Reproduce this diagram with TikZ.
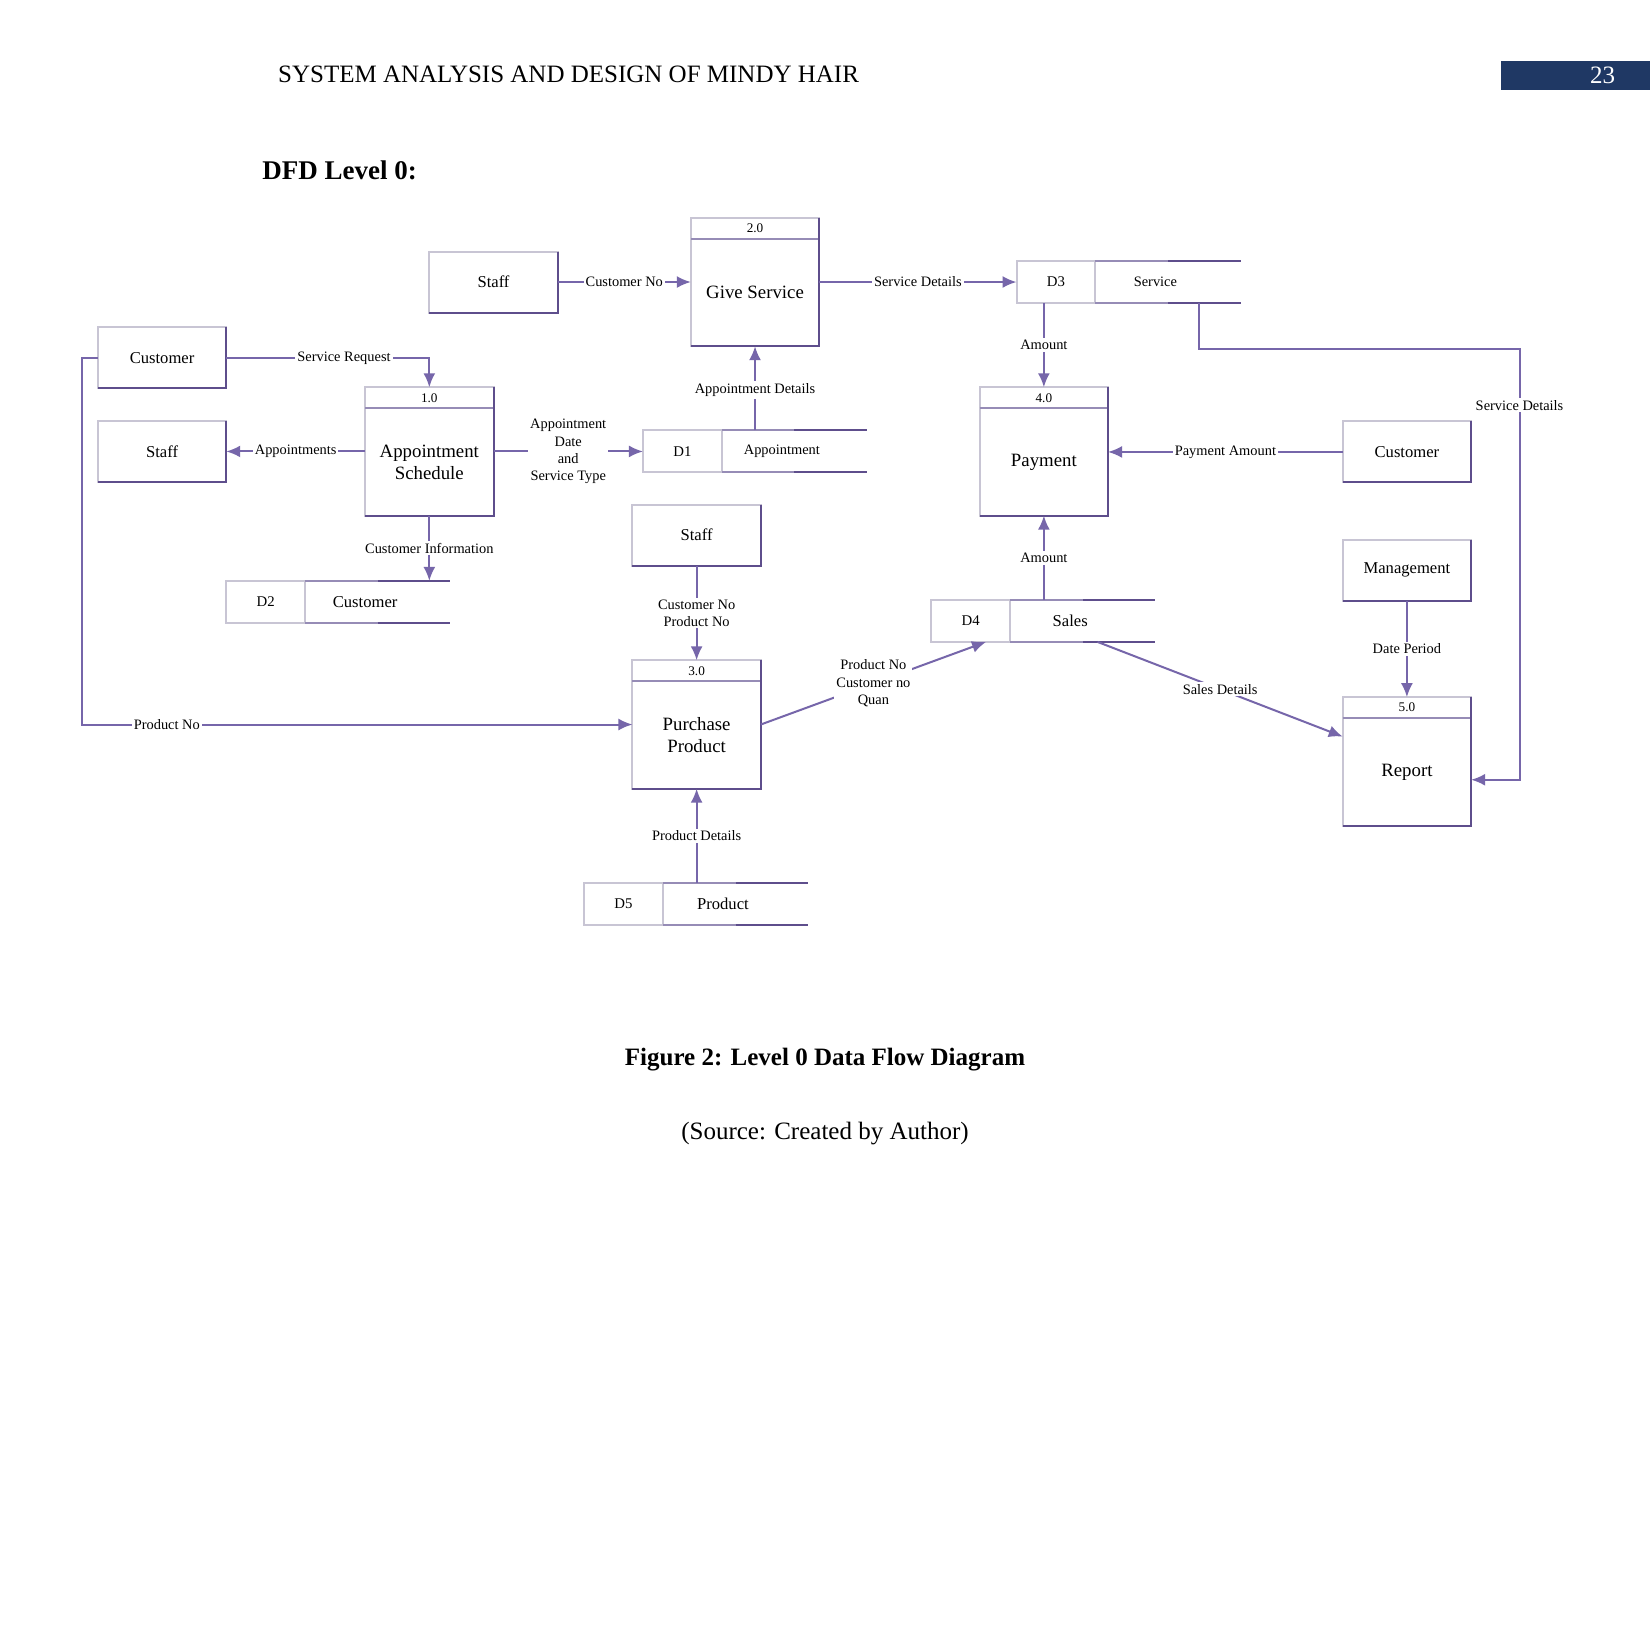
\documentclass[tikz,border=0pt]{standalone}
\usepackage{fontspec}
\setmainfont{Liberation Serif}
\usetikzlibrary{arrows.meta,calc}
\newcommand\pxu{0.52615pt}
\definecolor{flowc}{RGB}{118,102,170}
\definecolor{edged}{RGB}{94,78,140}
\definecolor{edgel}{RGB}{200,197,212}
\definecolor{edgem}{RGB}{150,140,182}
\definecolor{navy}{RGB}{31,56,100}
\tikzset{
 ent/.style={draw=edgel, line width=1pt, fill=white, minimum width={122*\pxu}, minimum height={58*\pxu}, inner sep=0pt, outer sep=0pt, font=\fontsize{8.3}{10}\selectfont},
 procbox/.style={draw=edgel, line width=1pt, fill=white, minimum width={122*\pxu}, minimum height={122*\pxu}, inner sep=0pt, outer sep=0pt},
 ptxt/.style={font=\fontsize{9.4}{11}\selectfont, align=center, inner sep=0pt},
 pnum/.style={font=\fontsize{6.6}{7}\selectfont, inner sep=0pt},
 sbox/.style={draw=edgel, line width=1pt, fill=white, minimum width={75*\pxu}, minimum height={40*\pxu}, inner sep=0pt, outer sep=0pt, font=\fontsize{7.4}{8}\selectfont},
 sname/.style={font=\fontsize{8.3}{10}\selectfont, inner sep=0pt},
 snames/.style={font=\fontsize{7.2}{8}\selectfont, inner sep=0pt},
 flow/.style={draw=flowc, line width=1pt, -{Latex[length=7pt,width=6pt]}},
 lbl/.style={font=\fontsize{7.2}{8.6}\selectfont, fill=white, inner sep=1pt, align=center, text=black},
 edgeD/.style={draw=edged, line width=1pt},
 edgeL/.style={draw=edgel, line width=1pt},
 edgeM/.style={draw=edgem, line width=1pt}
}
\newcommand\dfdproc[5]{%
 \node[procbox] (#1) at (#2,#3) {};
 \draw[edgeM] ($(#1.north west)+(0,20)$) -- ($(#1.north east)+(0,20)$);
 \node[pnum] (#1num) at ($(#1.north)+(0,10)$) {#4};
 \node[ptxt] (#1txt) at ($(#1.center)+(0,10)$) {#5};
}
\newcommand\dstore[6]{%
 \node[sbox] (#1) at ({#2+37.5},{#3+20}) {#4};
 \draw[edgeM] (#1.north east) -- ++(69,0);
 \draw[edgeD] ($(#1.north east)+(69,0)$) -- ++(69,0);
 \draw[edgeM] (#1.south east) -- ++(69,0);
 \draw[edgeD] ($(#1.south east)+(69,0)$) -- ++(69,0);
 \node[#6] (#1n) at ({#2+132},{#3+20}) {#5};
}
\begin{document}
\begin{tikzpicture}[x=0.52615pt,y=-0.52615pt]
\useasboundingbox (0,0) rectangle (1568,1568);
\fill[white] (0,0) rectangle (1568,1568);

% page header
\node[anchor=west, font=\fontsize{12.5}{15}\selectfont, inner sep=0pt] (hdr) at (264,71) {SYSTEM ANALYSIS AND DESIGN OF MINDY HAIR};
\node[fill=navy, minimum width={142*\pxu}, minimum height={27*\pxu}, inner sep=0pt, anchor=north west] (pgbox) at (1426,58) {};
\node[text=white, font=\fontsize{12.5}{15}\selectfont, inner sep=0pt] (pgnum) at (1523,71.5) {23};
\node[anchor=west, font=\bfseries\fontsize{13.5}{16}\selectfont, inner sep=0pt] (ttl) at (249,162) {DFD Level 0:};

% entities
\node[ent] (staffT) at (469,268) {Staff};
\node[ent] (custL) at (154,340) {Customer};
\node[ent] (staffL) at (154,429.5) {Staff};
\node[ent] (custR) at (1337,429.5) {Customer};
\node[ent] (staffM) at (662,508.5) {Staff};
\node[ent] (mgmt) at (1337,542) {Management};

% processes
\dfdproc{p2}{717.5}{268}{2.0}{Give Service}
\dfdproc{p1}{408}{429}{1.0}{Appointment\\Schedule}
\dfdproc{p4}{992}{429}{4.0}{Payment}
\dfdproc{p3}{662}{688.5}{3.0}{Purchase\\Product}
\dfdproc{p5}{1337}{723.5}{5.0}{Report}

% data stores
\dstore{d1}{611}{409}{D1}{Appointment}{snames}
\dstore{d2}{215}{552}{D2}{Customer}{sname}
\dstore{d3}{966}{248}{D3}{Service}{snames}
\dstore{d4}{885}{570}{D4}{Sales}{sname}
\dstore{d5}{555}{839}{D5}{Product}{sname}

% dark right/bottom edges
\foreach \n in {staffT,custL,staffL,custR,staffM,mgmt,p1,p2,p3,p4,p5}
  \draw[edgeD] (\n.north east) -- (\n.south east) -- (\n.south west);

% flows
\draw[flow] (staffT.east) -- node[lbl]{Customer No} (p2.west);
\draw[flow] (p2.east) -- node[lbl]{Service Details} (d3.west);
\draw[flow] (custL.east) -| node[lbl,pos=0.29]{Service Request} (p1.north);
\draw[flow] (p1.west) -- node[lbl]{Appointments} (p1.west -| staffL.east);
\draw[flow] (p1.east) -- node[lbl]{Appointment\\Date\\and\\Service Type} (d1.west);
\draw[flow] (p2.south |- d1.north) -- node[lbl,pos=0.48]{Appointment Details} (p2.south);
\draw[flow] (p1.south) -- node[lbl]{Customer Information} (p1.south |- d2.north);
\draw[flow] (custL.west) -- ++(-15,0) |- node[lbl,pos=0.577]{Product No} (p3.west);
\draw[flow] (staffM.south) -- node[lbl]{Customer No\\Product No} (p3.north);
\coordinate (d4in) at (937,610);
\draw[flow] (p3.east) -- node[lbl]{Product No\\Customer no\\Quan} (d4in);
\draw[flow] (p3.south |- d5.north) -- node[lbl]{Product Details} (p3.south);
\draw[flow] (p4.north |- d3.south) -- node[lbl]{Amount} (p4.north);
\draw[flow] (p4.south |- d4.north) -- node[lbl]{Amount} (p4.south);
\draw[flow] (custR.west) -- node[lbl]{Payment Amount} (custR.west -| p4.east);
\coordinate (d3out) at (1139,288);
\coordinate (sdA) at (1444,332);
\coordinate (sdB) at (1444,741);
\draw[flow] (d3out) |- (sdA) -- node[lbl,pos=0.13]{Service Details} (sdB) -- (sdB -| p5.east);
\coordinate (d4out) at (1043,610);
\coordinate (p5in) at (1276,700);
\draw[flow] (d4out) -- node[lbl]{Sales Details} (p5in);
\draw[flow] (mgmt.south) -- node[lbl]{Date Period} (p5.north);

% caption
\node[font=\bfseries\fontsize{12.5}{15}\selectfont, inner sep=0pt] (cap) at (784,1007) {Figure 2: Level 0 Data Flow Diagram};
\node[font=\fontsize{12.5}{15}\selectfont, inner sep=0pt] (src) at (784,1077) {(Source: Created by Author)};
\end{tikzpicture}
\end{document}
